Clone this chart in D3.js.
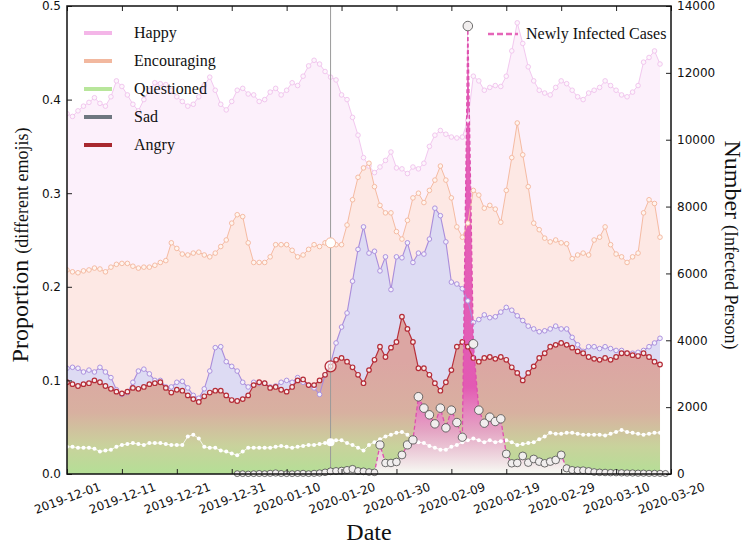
<!DOCTYPE html>
<html><head><meta charset="utf-8">
<script src="https://cdn.jsdelivr.net/npm/d3@7"></script>
<style>body{margin:0;background:#fff}svg{display:block}</style>
</head><body><svg id="c" width="750" height="549"></svg>
<script>
const startDate = "2019-12-01";
const xTickLabels = ["2019-12-01","2019-12-11","2019-12-21","2019-12-31","2020-01-10","2020-01-20","2020-01-30","2020-02-09","2020-02-19","2020-02-29","2020-03-10","2020-03-20"];
const leftTicks = [0.0,0.1,0.2,0.3,0.4,0.5];
const rightTicks = [0,2000,4000,6000,8000,10000,12000,14000];
const markerDate = "2020-01-18";

const happy = [0.385,0.382,0.388,0.393,0.397,0.402,0.396,0.393,0.403,0.420,
0.414,0.405,0.395,0.388,0.400,0.410,0.418,0.417,0.416,0.410,
0.403,0.398,0.393,0.395,0.403,0.415,0.424,0.410,0.395,0.389,
0.398,0.410,0.412,0.406,0.405,0.398,0.400,0.408,0.412,0.405,
0.410,0.418,0.415,0.425,0.436,0.442,0.438,0.430,0.424,0.421,
0.405,0.400,0.381,0.362,0.338,0.329,0.322,0.328,0.335,0.344,
0.327,0.326,0.321,0.328,0.326,0.332,0.350,0.362,0.367,0.363,
0.360,0.359,0.360,0.378,0.425,0.420,0.410,0.413,0.415,0.414,
0.425,0.452,0.482,0.460,0.435,0.420,0.410,0.407,0.405,0.413,
0.420,0.417,0.410,0.403,0.400,0.407,0.410,0.413,0.420,0.415,
0.410,0.405,0.403,0.408,0.415,0.440,0.445,0.452,0.438];

const encouraging = [0.218,0.216,0.215,0.217,0.218,0.220,0.219,0.216,0.221,0.224,
0.225,0.225,0.222,0.220,0.221,0.221,0.223,0.226,0.228,0.247,
0.241,0.235,0.234,0.236,0.237,0.234,0.232,0.236,0.243,0.250,
0.268,0.277,0.275,0.247,0.226,0.226,0.226,0.232,0.245,0.245,
0.245,0.239,0.232,0.234,0.240,0.245,0.243,0.247,0.247,0.245,
0.245,0.266,0.293,0.317,0.327,0.332,0.307,0.287,0.279,0.279,
0.259,0.251,0.271,0.295,0.300,0.290,0.303,0.314,0.329,0.314,
0.295,0.264,0.253,0.268,0.303,0.298,0.284,0.287,0.283,0.269,
0.303,0.338,0.375,0.341,0.307,0.268,0.261,0.252,0.248,0.250,
0.247,0.246,0.230,0.234,0.236,0.234,0.250,0.253,0.264,0.245,
0.235,0.232,0.226,0.232,0.236,0.279,0.293,0.289,0.253];

const sad = [0.113,0.114,0.113,0.109,0.111,0.109,0.114,0.109,0.103,0.090,
0.085,0.087,0.098,0.110,0.112,0.107,0.100,0.100,0.093,0.093,
0.098,0.099,0.092,0.084,0.081,0.091,0.110,0.135,0.136,0.120,
0.115,0.110,0.098,0.093,0.098,0.097,0.097,0.093,0.094,0.098,
0.100,0.098,0.103,0.098,0.095,0.092,0.085,0.106,0.118,0.140,
0.157,0.172,0.206,0.240,0.264,0.236,0.238,0.217,0.232,0.197,
0.232,0.231,0.247,0.226,0.236,0.235,0.251,0.284,0.276,0.248,
0.205,0.203,0.198,0.185,0.162,0.165,0.170,0.167,0.168,0.173,
0.178,0.175,0.169,0.164,0.158,0.155,0.152,0.153,0.155,0.158,
0.155,0.155,0.146,0.138,0.131,0.136,0.136,0.134,0.136,0.134,
0.132,0.132,0.129,0.129,0.130,0.132,0.136,0.140,0.145];

const angry = [0.098,0.096,0.094,0.096,0.097,0.100,0.098,0.094,0.091,0.088,
0.086,0.088,0.092,0.091,0.093,0.096,0.097,0.098,0.092,0.087,
0.090,0.089,0.084,0.080,0.077,0.083,0.087,0.089,0.089,0.084,
0.079,0.078,0.080,0.084,0.095,0.098,0.097,0.092,0.093,0.090,
0.088,0.093,0.100,0.101,0.095,0.095,0.100,0.106,0.115,0.122,
0.124,0.120,0.114,0.106,0.097,0.111,0.122,0.136,0.125,0.135,
0.141,0.168,0.155,0.141,0.113,0.113,0.106,0.097,0.089,0.098,
0.111,0.136,0.141,0.136,0.124,0.120,0.124,0.125,0.123,0.125,
0.122,0.114,0.108,0.100,0.108,0.115,0.124,0.129,0.136,0.138,
0.140,0.138,0.135,0.131,0.129,0.125,0.123,0.122,0.124,0.122,
0.125,0.129,0.129,0.127,0.126,0.129,0.125,0.120,0.117];

const questioned = [0.029,0.029,0.028,0.028,0.028,0.027,0.024,0.025,0.026,0.029,
0.031,0.032,0.033,0.032,0.031,0.033,0.033,0.033,0.032,0.031,
0.031,0.031,0.040,0.042,0.038,0.029,0.028,0.028,0.025,0.024,
0.022,0.020,0.024,0.028,0.028,0.028,0.028,0.028,0.029,0.030,
0.029,0.028,0.029,0.030,0.031,0.031,0.032,0.033,0.034,0.036,
0.036,0.033,0.031,0.028,0.025,0.031,0.034,0.037,0.040,0.042,
0.044,0.045,0.042,0.036,0.034,0.033,0.030,0.028,0.026,0.026,
0.029,0.031,0.034,0.036,0.038,0.036,0.034,0.036,0.034,0.035,
0.036,0.034,0.031,0.032,0.033,0.034,0.037,0.040,0.044,0.043,
0.043,0.044,0.044,0.043,0.042,0.042,0.042,0.042,0.041,0.043,
0.045,0.047,0.045,0.044,0.043,0.042,0.043,0.044,0.044];

// newly infected cases, starting 2020-01-01
const infectedStart = "2020-01-01";
const infected = [10,10,5,10,15,10,20,30,15,10,
10,15,20,10,20,30,50,80,90,100,
120,150,90,80,60,50,
870,330,330,360,570,870,1020,2310,1970,1770,1500,1970,1380,1910,1540,1100,
13400,3890,1910,1520,1700,1570,1650,600,320,330,540,340,450,370,320,370,420,570,
170,120,110,110,90,60,50,45,40,40,35,30,30,25,25,20,20,20,15];

const parse = d3.timeParse("%Y-%m-%d");
const d0 = parse(startDate);
const dates = happy.map((_, i) => d3.timeDay.offset(d0, i));
const infStart = parse(infectedStart);
const infDates = infected.map((_, i) => d3.timeDay.offset(infStart, i));

const L = 67, R = 671, T = 6, B = 474;
const svg = d3.select("#c");
const x = d3.scaleTime().domain([parse(xTickLabels[0]), parse(xTickLabels[xTickLabels.length-1])]).range([L, R]);
const yL = d3.scaleLinear().domain([0, 0.5]).range([B, T]);
const yR = d3.scaleLinear().domain([0, 14000]).range([B, T]);

const defs = svg.append("defs");
defs.append("clipPath").attr("id","clip").append("rect").attr("x",L).attr("y",T).attr("width",R-L).attr("height",B-T);
const gA = defs.append("linearGradient").attr("id","gAngry").attr("gradientUnits","userSpaceOnUse")
  .attr("x1",0).attr("x2",0).attr("y1",yL(0.12)).attr("y2",yL(0));
gA.append("stop").attr("offset",0).attr("stop-color","#dca6a3");
gA.append("stop").attr("offset",0.45).attr("stop-color","#d8b0a0");
gA.append("stop").attr("offset",0.75).attr("stop-color","#c9d29c");
gA.append("stop").attr("offset",1).attr("stop-color","#b4df96");
const gI = defs.append("linearGradient").attr("id","gInf").attr("gradientUnits","userSpaceOnUse")
  .attr("x1",0).attr("x2",0).attr("y1",yR(2600)).attr("y2",yR(0));
gI.append("stop").attr("offset",0).attr("stop-color","#e356b4").attr("stop-opacity",0.95);
gI.append("stop").attr("offset",0.5).attr("stop-color","#eb9ad0").attr("stop-opacity",0.75);
gI.append("stop").attr("offset",1).attr("stop-color","#ffffff").attr("stop-opacity",0.9);

const plot = svg.append("g").attr("clip-path","url(#clip)");

function area(vals, fill) {
  plot.append("path").datum(vals)
    .attr("d", d3.area().x((d,i)=>x(dates[i])).y0(yL(0)).y1(d=>yL(d)))
    .attr("fill", fill);
}
area(happy, "#fcf0fb");
area(encouraging, "#fde8e4");
area(sad, "#dddbf3");
area(angry, "url(#gAngry)");

plot.append("path").datum(infected)
  .attr("d", d3.area().x((d,i)=>x(infDates[i])).y0(yR(0)).y1(d=>yR(d)))
  .attr("fill","url(#gInf)");

function line(vals, color, w) {
  plot.append("path").datum(vals)
    .attr("d", d3.line().x((d,i)=>x(dates[i])).y(d=>yL(d)))
    .attr("fill","none").attr("stroke",color).attr("stroke-width",w);
}
function marks(vals, stroke, fill, r, sw) {
  plot.append("g").selectAll("circle").data(vals).join("circle")
    .attr("cx",(d,i)=>x(dates[i])).attr("cy",d=>yL(d)).attr("r",r)
    .attr("fill",fill).attr("stroke",stroke).attr("stroke-width",sw);
}
line(happy, "#f2c8ef", 1);
marks(happy, "#efc2ec", "#fdf5fc", 2.3, 0.9);
line(encouraging, "#f5bba2", 1);
marks(encouraging, "#f3b69c", "#fff4ef", 2.3, 0.9);
line(sad, "#a98ddb", 1.1);
marks(sad, "#ad92de", "#f3f0fb", 2.3, 1);
line(angry, "#b8303b", 1.2);
marks(angry, "#b52d38", "#f7ecec", 2.3, 1.2);
line(questioned, "#ffffff", 0.8);
marks(questioned, "none", "#ffffff", 2.0, 0);

const md = parse(markerDate);
plot.append("line").attr("x1",x(md)).attr("x2",x(md)).attr("y1",T).attr("y2",B)
  .attr("stroke","#9a9a9a").attr("stroke-width",1);
const mi = d3.timeDay.count(d0, md);
plot.append("circle").attr("cx",x(md)).attr("cy",yL(encouraging[mi])).attr("r",5).attr("fill","#fff").attr("stroke","#f3b69c").attr("stroke-width",1);
plot.append("circle").attr("cx",x(md)).attr("cy",yL(angry[mi])).attr("r",5.5).attr("fill","#fff").attr("stroke","#b52d38").attr("stroke-width",1.3).attr("fill-opacity",0.6);
plot.append("circle").attr("cx",x(md)).attr("cy",yL(questioned[mi])).attr("r",4).attr("fill","#fff");

plot.append("path").datum(infected)
  .attr("d", d3.line().x((d,i)=>x(infDates[i])).y(d=>yR(d)))
  .attr("fill","none").attr("stroke","#de4fae").attr("stroke-width",1.3).attr("stroke-dasharray","4,2.5");
const rS = v => 2.3 + 0.6*Math.log10(1+v);
svg.append("g").selectAll("circle").data(infected).join("circle")
  .attr("cx",(d,i)=>x(infDates[i])).attr("cy",d=>yR(d)).attr("r",d=>rS(d))
  .attr("fill","#f1eeee").attr("stroke","#4a4a4a").attr("stroke-width",0.8);

const tickDates = xTickLabels.map(parse);
const tf = "DejaVu Sans";
const gx = svg.append("g").attr("transform",`translate(0,${B})`)
  .call(d3.axisBottom(x).tickValues(tickDates).tickSize(-5).tickSizeOuter(0).tickFormat(d3.timeFormat("%Y-%m-%d")));
gx.select(".domain").remove();
gx.selectAll("text").attr("y",0).attr("dy","0.35em").attr("transform","translate(0,24) rotate(-20)")
  .style("text-anchor","middle").style("font-family",tf).style("font-size","12px").attr("fill","#111");
const gt = svg.append("g").attr("transform",`translate(0,${T})`)
  .call(d3.axisTop(x).tickValues(tickDates).tickSize(-5).tickSizeOuter(0).tickFormat(""));
gt.select(".domain").remove();
const gl = svg.append("g").attr("transform",`translate(${L},0)`)
  .call(d3.axisLeft(yL).tickValues(leftTicks).tickSize(-5).tickSizeOuter(0).tickPadding(6).tickFormat(d3.format(".1f")));
gl.select(".domain").remove();
gl.selectAll("text").style("font-family",tf).style("font-size","12px").attr("fill","#111");
const gr = svg.append("g").attr("transform",`translate(${R},0)`)
  .call(d3.axisRight(yR).tickValues(rightTicks).tickSize(-5).tickSizeOuter(0).tickPadding(6).tickFormat(d3.format("d")));
gr.select(".domain").remove();
gr.selectAll("text").style("font-family",tf).style("font-size","12px").attr("fill","#111");
svg.selectAll(".tick line").attr("stroke","#222").attr("stroke-width",1);
svg.append("rect").attr("x",L).attr("y",T).attr("width",R-L).attr("height",B-T)
  .attr("fill","none").attr("stroke","#111").attr("stroke-width",1.5);

const sf = "Liberation Serif";
const legendNames = ["Happy","Encouraging","Questioned","Sad","Angry"];
const legendColors = ["#f4b6e8","#f2b89f","#b8e69b","#6e7780","#a8282f"];
const lg = svg.append("g");
legendNames.forEach((n,i)=>{
  const yy = 33 + i*28;
  lg.append("line").attr("x1",84).attr("x2",112).attr("y1",yy).attr("y2",yy)
    .attr("stroke",legendColors[i]).attr("stroke-width",4);
  lg.append("text").attr("x",134).attr("y",yy+5).text(n)
    .style("font-family",sf).style("font-size","16px").attr("fill","#111");
});
lg.append("line").attr("x1",488).attr("x2",518).attr("y1",34).attr("y2",34)
  .attr("stroke","#e565b8").attr("stroke-width",2.5).attr("stroke-dasharray","6,3");
lg.append("text").attr("x",526).attr("y",39).text("Newly Infected Cases")
  .style("font-family",sf).style("font-size","16px").attr("fill","#111");

svg.append("text").attr("x",(L+R)/2).attr("y",540).attr("text-anchor","middle")
  .style("font-family",sf).style("font-size","24px").attr("fill","#111").text("Date");
const lt = svg.append("text").attr("transform",`translate(28,${(T+B)/2+5}) rotate(-90)`).attr("text-anchor","middle")
  .style("font-family",sf).attr("fill","#111");
lt.append("tspan").style("font-size","24px").text("Proportion ");
lt.append("tspan").style("font-size","18px").text("(different emojis)");
const rt = svg.append("text").attr("transform",`translate(725,${(T+B)/2+5}) rotate(90)`).attr("text-anchor","middle")
  .style("font-family",sf).attr("fill","#111");
rt.append("tspan").style("font-size","24px").text("Number ");
rt.append("tspan").style("font-size","18px").text("(Infected Person)");
</script></body></html>
